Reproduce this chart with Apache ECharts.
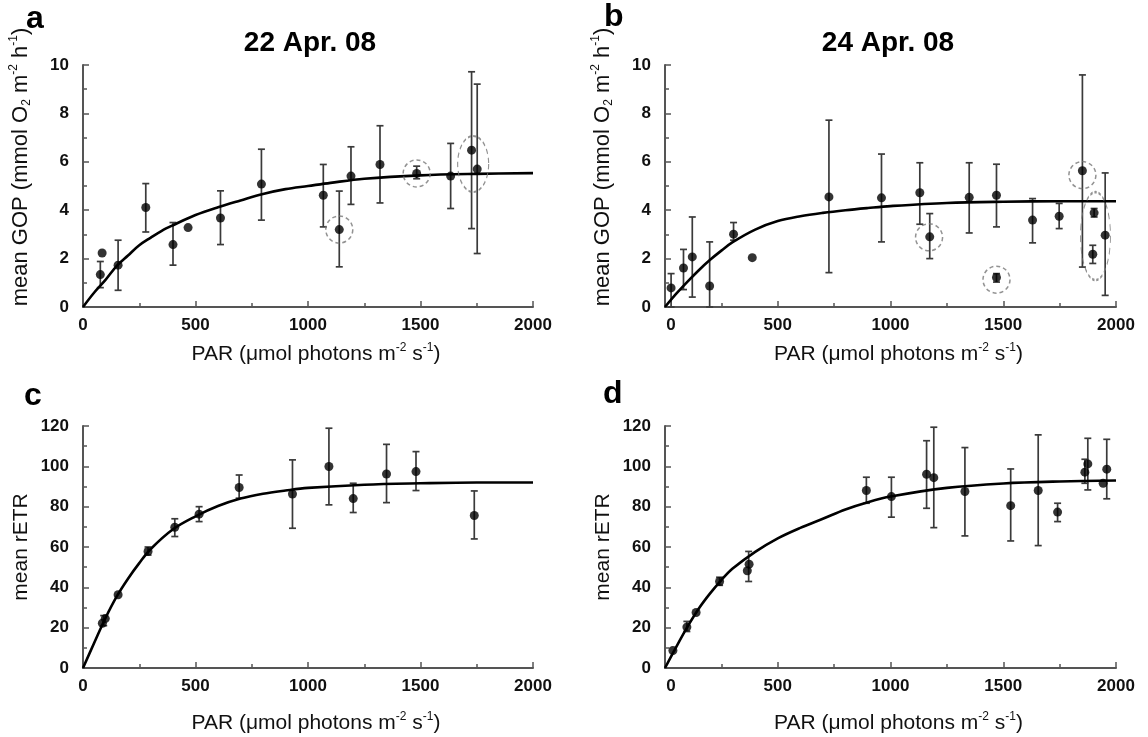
<!DOCTYPE html>
<html>
<head>
<meta charset="utf-8">
<script src="https://cdn.jsdelivr.net/npm/echarts/dist/echarts.min.js"></script>
<style>
html,body{margin:0;padding:0;background:#fff;}
#chart{width:1148px;height:737px;}
</style>
</head>
<body>
<div id="chart"></div>
<script>
// ---------------- data ----------------
const panelLetters = ['a', 'b', 'c', 'd'];
const panelTitles = ['22 Apr. 08', '24 Apr. 08'];
const xRange = [0, 2000, 500];          // min, max, label step
const gopRange = [0, 10, 2];
const etrRange = [0, 120, 20];

// panel a : GOP 22 Apr. 08  [PAR, mean GOP]
const aPoints = [[77,1.34],[85,2.23],[156,1.73],[279,4.11],[400,2.58],[467,3.28],[611,3.68],[793,5.08],
  [1068,4.62],[1139,3.2],[1191,5.41],[1320,5.89],[1483,5.52],[1634,5.41],[1727,6.48],[1752,5.7]];
// [PAR, low, high]
const aErrors = [[77,0.8,1.88],[156,0.69,2.76],[279,3.1,5.1],[400,1.73,3.49],[611,2.58,4.8],[793,3.59,6.52],
  [1068,3.31,5.89],[1139,1.66,4.79],[1191,4.24,6.62],[1320,4.3,7.49],[1483,5.3,5.82],[1634,4.07,6.76],
  [1727,3.24,9.72],[1752,2.21,9.21]];
// fitted curve
const aCurveX = [0,50,100,150,200,250,300,350,400,500,600,700,800,900,1000,1100,1250,1500,1750,2000];
const aCurveY = [0,0.6,1.12,1.7,2.13,2.55,2.86,3.15,3.38,3.8,4.12,4.4,4.67,4.87,5.0,5.13,5.3,5.44,5.5,5.53];
const aCircles = [[1139,3.2],[1483,5.52]];
const aEllipses = [[1734,5.91]];

// panel b : GOP 24 Apr. 08
const bPoints = [[27,0.79],[82,1.61],[121,2.07],[198,0.87],[304,3.01],[387,2.04],[727,4.55],[960,4.51],
  [1130,4.72],[1174,2.9],[1349,4.53],[1470,4.62],[1470,1.22],[1630,3.59],[1748,3.75],[1851,5.63],
  [1897,2.18],[1903,3.89],[1952,2.97]];
const bErrors = [[27,0,1.38],[82,0.72,2.38],[121,0.41,3.72],[198,0,2.69],[304,2.76,3.49],[727,1.42,7.72],
  [960,2.69,6.32],[1130,3.42,5.96],[1174,2.0,3.86],[1349,3.06,5.96],[1470,3.31,5.9],[1470,1.03,1.38],
  [1630,2.65,4.48],[1748,3.24,4.28],[1851,1.65,9.59],[1897,1.8,2.55],[1903,3.72,4.07],[1952,0.48,5.54]];
const bCurveX = [0,50,100,150,200,250,300,400,500,600,700,800,900,1000,1250,1500,1750,2000];
const bCurveY = [0,0.55,1.05,1.52,1.95,2.33,2.68,3.2,3.55,3.75,3.89,4.0,4.09,4.17,4.3,4.35,4.37,4.37];
const bCircles = [[1171,2.88],[1470,1.13],[1851,5.45]];
const bEllipses = [[1909,2.93]];

// panel c : rETR 22 Apr. 08
const cPoints = [[86,22.2],[99,24.5],[156,36.3],[289,57.8],[408,69.8],[516,76.3],[694,89.5],[931,86.3],
  [1093,99.9],[1201,84],[1349,96.2],[1480,97.4],[1739,75.6]];
const cErrors = [[92,21,26],[289,56,60],[408,65.2,74],[516,72.6,80],[694,84.2,95.7],[931,69.3,103.2],
  [1093,80.9,118.9],[1201,77.1,91.6],[1349,82,110.9],[1480,88,107.3],[1739,64,87.8]];
const cCurveX = [0,50,100,150,200,250,300,400,500,600,700,800,900,1000,1250,1500,1750,2000];
const cCurveY = [0,12.5,24.8,35.5,44.3,52,58.9,68.8,75.2,80.3,84,86.4,88,89.3,90.9,91.6,92,92];

// panel d : rETR 24 Apr. 08
const dPoints = [[35,8.7],[97,20.3],[138,27.5],[242,42.9],[365,48.2],[373,51.5],[893,88],[1004,85],
  [1160,96.1],[1192,94.4],[1330,87.5],[1533,80.5],[1655,88],[1741,77.3],[1862,97.1],[1875,101.2],
  [1943,91.6],[1959,98.6]];
const dErrors = [[97,18.1,23.1],[242,41,45],[371,42.9,57.8],[893,81.7,94.6],[1004,74.8,94.6],[1160,79.2,112.7],
  [1192,69.6,119.4],[1330,65.5,109.3],[1533,63,98.7],[1655,60.7,115.6],[1741,72.6,81.7],[1862,91.6,103.5],
  [1875,88.3,113.9],[1959,83.9,113.4]];
const dCurveX = [0,50,100,150,200,250,300,400,500,600,700,800,900,1000,1250,1500,1750,2000];
const dCurveY = [0,10.5,20.5,29.5,37,43.6,49.3,57.6,64.3,69.5,74,78.6,82.2,85,89.3,91.5,92.5,93];

// ---------------- chart ----------------
const FONT = '"Liberation Sans", Arial, sans-serif';
const AXIS_COLOR = '#555';
const grids = [
  {left: 83, top: 65, width: 450, height: 242},
  {left: 665, top: 65, width: 451, height: 242},
  {left: 83, top: 426, width: 450, height: 242},
  {left: 665, top: 426, width: 451, height: 242}
];

const supRich = {
  sup: {fontSize: 12, lineHeight: 14, verticalAlign: 'top', fontFamily: FONT, color: '#111'},
  sub: {fontSize: 12, lineHeight: 14, verticalAlign: 'bottom', fontFamily: FONT, color: '#111'},
  z: {fontSize: 17, fontWeight: 'bold', fontFamily: FONT, color: '#111', padding: [0, 0, 0, 12]}
};

function xAxis(gi, shiftZero, gap) {
  return {
    type: 'value', gridIndex: gi, min: xRange[0], max: xRange[1], interval: xRange[2],
    axisLine: {show: true, lineStyle: {color: AXIS_COLOR, width: 2}},
    axisTick: {show: true, inside: true, length: 6, lineStyle: {color: AXIS_COLOR, width: 1.5}},
    minorTick: {show: true, splitNumber: 2, length: 4, lineStyle: {color: AXIS_COLOR, width: 1.5}},
    splitLine: {show: false},
    axisLabel: {
      color: '#111', fontSize: 17, fontWeight: 'bold', fontFamily: FONT, margin: 10,
      formatter: v => (shiftZero && v === 0) ? '{z|0}' : String(v), rich: supRich
    },
    name: 'PAR (μmol photons m{sup|-2} s{sup|-1})', nameLocation: 'middle', nameGap: gap,
    nameTextStyle: {fontSize: 21, color: '#111', fontFamily: FONT, lineHeight: 24, rich: supRich,
      padding: [0, 0, 0, 16]}
  };
}
function yAxis(gi, range, name, shift, size) {
  return {
    type: 'value', gridIndex: gi, min: range[0], max: range[1], interval: range[2],
    axisLine: {show: true, lineStyle: {color: AXIS_COLOR, width: 2}},
    axisTick: {show: true, inside: true, length: 6, lineStyle: {color: AXIS_COLOR, width: 1.5}},
    minorTick: {show: true, splitNumber: 2, length: 4, lineStyle: {color: AXIS_COLOR, width: 1.5}},
    splitLine: {show: false},
    axisLabel: {color: '#111', fontSize: 17, fontWeight: 'bold', fontFamily: FONT, margin: 14},
    name: name, nameLocation: 'middle', nameGap: 50,
    nameTextStyle: {fontSize: size, color: '#111', fontFamily: FONT, lineHeight: size + 3, rich: supRich,
      padding: [0, 0, 0, shift]}
  };
}

function zip(xs, ys) { return xs.map((x, i) => [x, ys[i]]); }

function errorSeries(gi, data) {
  return {
    type: 'custom', xAxisIndex: gi, yAxisIndex: gi, data: data, silent: true, z: 2,
    encode: {x: 0, y: [1, 2]},
    renderItem: function (params, api) {
      const x = api.value(0), lo = api.value(1), hi = api.value(2);
      const p1 = api.coord([x, lo]), p2 = api.coord([x, hi]);
      const w = 3.5;
      const st = {stroke: '#3a3a3a', lineWidth: 1.7};
      return {type: 'group', children: [
        {type: 'line', shape: {x1: p1[0], y1: p1[1], x2: p2[0], y2: p2[1]}, style: st},
        {type: 'line', shape: {x1: p1[0] - w, y1: p1[1], x2: p1[0] + w, y2: p1[1]}, style: st},
        {type: 'line', shape: {x1: p2[0] - w, y1: p2[1], x2: p2[0] + w, y2: p2[1]}, style: st}
      ]};
    }
  };
}
function pointSeries(gi, data) {
  return {type: 'scatter', xAxisIndex: gi, yAxisIndex: gi, data: data, symbol: 'circle', symbolSize: 9,
    itemStyle: {color: '#000'}, z: 4, silent: true};
}
function curveSeries(gi, xs, ys) {
  return {type: 'line', xAxisIndex: gi, yAxisIndex: gi, data: zip(xs, ys), smooth: 0.35,
    symbol: 'none', lineStyle: {color: '#000', width: 2.6}, z: 3, silent: true};
}
function ringSeries(gi, data, size) {
  return {type: 'scatter', xAxisIndex: gi, yAxisIndex: gi, data: data, symbol: 'circle', symbolSize: size,
    itemStyle: {color: 'rgba(0,0,0,0)', borderColor: '#777', borderWidth: 1.5, borderType: [4, 3]},
    z: 5, silent: true};
}

const gopName = 'mean GOP (mmol O{sub|2} m{sup|-2} h{sup|-1})';
const etrName = 'mean rETR';

const option = {
  animation: false,
  backgroundColor: '#fff',
  grid: grids,
  xAxis: [xAxis(0, false, 35), xAxis(1, true, 35), xAxis(2, false, 43), xAxis(3, true, 43)],
  yAxis: [yAxis(0, gopRange, gopName, 38, 22), yAxis(1, gopRange, gopName, 38, 22),
          yAxis(2, etrRange, etrName, 0, 21), yAxis(3, etrRange, etrName, 0, 21)],
  graphic: [
    {type: 'text', x: 26, y: 19, style: {text: panelLetters[0], font: 'bold 32px ' + FONT, fill: '#000', verticalAlign: 'middle'}},
    {type: 'text', x: 604, y: 17, style: {text: panelLetters[1], font: 'bold 32px ' + FONT, fill: '#000', verticalAlign: 'middle'}},
    {type: 'text', x: 24, y: 396, style: {text: panelLetters[2], font: 'bold 32px ' + FONT, fill: '#000', verticalAlign: 'middle'}},
    {type: 'text', x: 603, y: 394, style: {text: panelLetters[3], font: 'bold 32px ' + FONT, fill: '#000', verticalAlign: 'middle'}},
    {type: 'text', x: 310, y: 43, style: {text: panelTitles[0], font: 'bold 28px ' + FONT, fill: '#000', align: 'center', verticalAlign: 'middle'}},
    {type: 'text', x: 888, y: 43, style: {text: panelTitles[1], font: 'bold 28px ' + FONT, fill: '#000', align: 'center', verticalAlign: 'middle'}}
  ],
  series: [
    errorSeries(0, aErrors), curveSeries(0, aCurveX, aCurveY), pointSeries(0, aPoints),
    ringSeries(0, aCircles, 27), ringSeries(0, aEllipses, [31, 56]),
    errorSeries(1, bErrors), curveSeries(1, bCurveX, bCurveY), pointSeries(1, bPoints),
    ringSeries(1, bCircles, 27), ringSeries(1, bEllipses, [30, 88]),
    errorSeries(2, cErrors), curveSeries(2, cCurveX, cCurveY), pointSeries(2, cPoints),
    errorSeries(3, dErrors), curveSeries(3, dCurveX, dCurveY), pointSeries(3, dPoints)
  ]
};

const chart = echarts.init(document.getElementById('chart'), null, {renderer: 'canvas'});
chart.setOption(option);
</script>
</body>
</html>
